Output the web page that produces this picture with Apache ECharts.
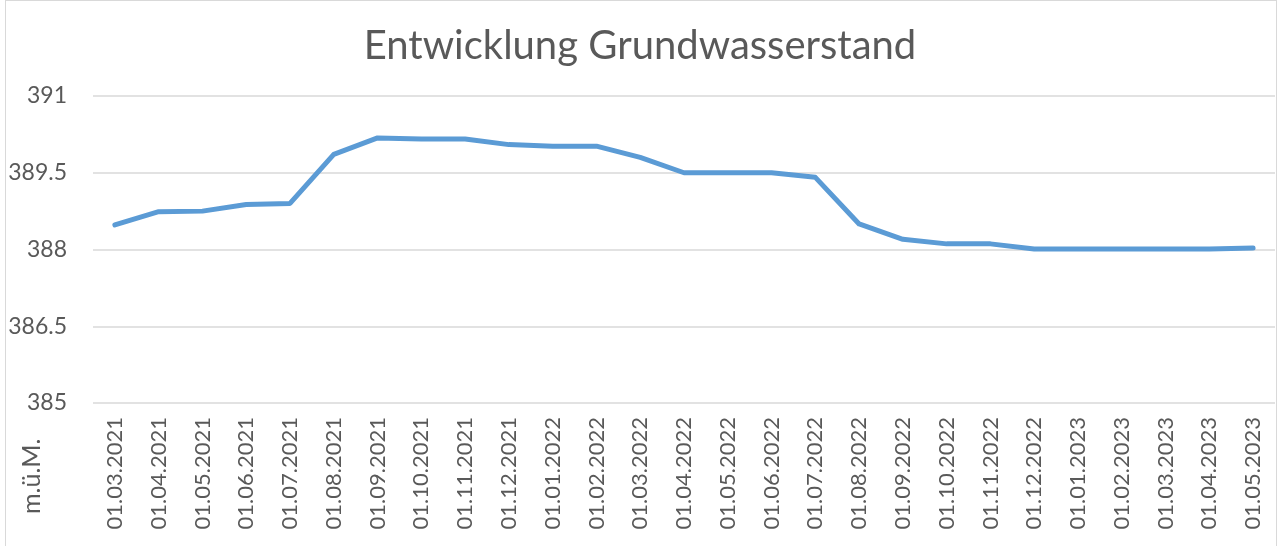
<!DOCTYPE html>
<html><head><meta charset="utf-8">
<script src="https://cdn.jsdelivr.net/npm/echarts@6/dist/echarts.min.js"></script>
<style>
html,body{margin:0;padding:0;background:#fff;}
#c{width:1280px;height:546px;}
#b{position:absolute;left:5px;top:0;width:1272px;height:560px;border:1px solid #d9d9d9;box-sizing:border-box;pointer-events:none;}
</style></head>
<body><div id="c"></div><div id="b"></div>
<script>
const titleText = 'Entwicklung Grundwasserstand';
const yAxisName = 'm.ü.M.';
const categories = ['01.03.2021','01.04.2021','01.05.2021','01.06.2021','01.07.2021','01.08.2021','01.09.2021','01.10.2021','01.11.2021','01.12.2021','01.01.2022','01.02.2022','01.03.2022','01.04.2022','01.05.2022','01.06.2022','01.07.2022','01.08.2022','01.09.2022','01.10.2022','01.11.2022','01.12.2022','01.01.2023','01.02.2023','01.03.2023','01.04.2023','01.05.2023'];
const levels = [388.48,388.74,388.75,388.88,388.90,389.86,390.18,390.16,390.16,390.05,390.02,390.02,389.80,389.50,389.50,389.50,389.41,388.50,388.20,388.11,388.11,388.01,388.01,388.01,388.01,388.01,388.03];
const yMin = 385, yMax = 391, yStep = 1.5;

const font = 'Lato, "DejaVu Sans", sans-serif';
const chart = echarts.init(document.getElementById('c'));
chart.setOption({
  animation:false,
  title:{text:titleText,left:'center',top:21,textStyle:{fontFamily:font,fontSize:40,fontWeight:'normal',color:'#595959'}},
  grid:{left:93,right:5,top:96,bottom:143},
  xAxis:{type:'category',data:categories,boundaryGap:true,
    axisLine:{show:false},axisTick:{show:false},
    axisLabel:{rotate:90,interval:0,margin:14,fontFamily:font,fontSize:22,color:'#595959'}},
  yAxis:{type:'value',min:yMin,max:yMax,interval:yStep,
    axisLabel:{margin:26,fontFamily:font,fontSize:23,color:'#595959'},
    splitLine:{lineStyle:{color:'#d9d9d9',width:1.5}},axisLine:{show:false},axisTick:{show:false}},
  graphic:[{type:'text',x:44,y:514,rotation:Math.PI/2,
    style:{text:yAxisName,fontFamily:font,fontSize:25,fill:'#595959',textAlign:'left',textVerticalAlign:'bottom'}}],
  series:[{type:'line',data:levels,symbol:'none',lineStyle:{color:'#5B9BD5',width:5,cap:'round',join:'round'}}]
});
</script></body></html>
